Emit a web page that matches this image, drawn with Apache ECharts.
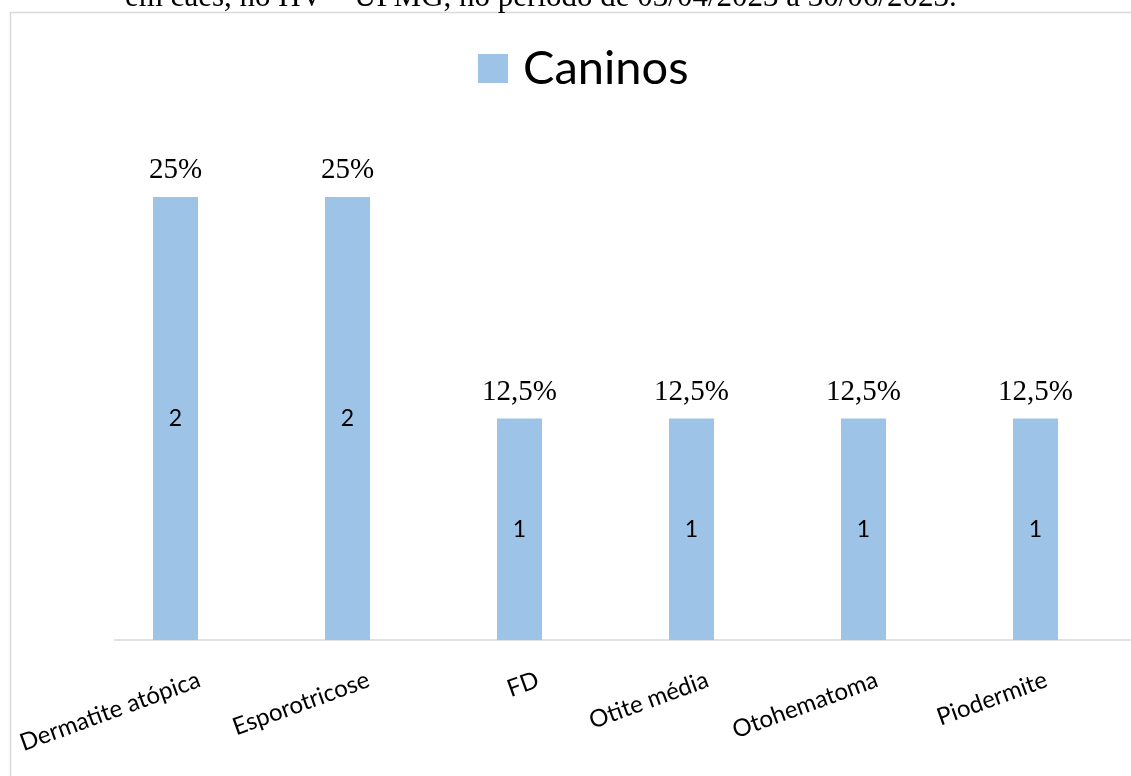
<!DOCTYPE html>
<html>
<head>
<meta charset="utf-8">
<script src="https://cdn.jsdelivr.net/npm/echarts@6/dist/echarts.min.js"></script>
<style>
html,body{margin:0;padding:0;background:#fff;}
#chart{width:1131px;height:776px;}
</style>
</head>
<body>
<div id="chart"></div>
<script>
// ---- data ----
var categories = ['Dermatite atópica', 'Esporotricose', 'FD', 'Otite média', 'Otohematoma', 'Piodermite'];
var counts = [2, 2, 1, 1, 1, 1];
var percentLabels = ['25%', '25%', '12,5%', '12,5%', '12,5%', '12,5%'];
var seriesName = 'Caninos';
var captionText = 'em cães, no HV – UFMG, no período de 03/04/2023 a 30/06/2023.';

var chart = echarts.init(document.getElementById('chart'));
var labelShift = 25;
var option = {
  animation: false,
  backgroundColor: '#ffffff',
  graphic: [
    {type: 'rect', shape: {x: 10.5, y: 12.5, width: 1140, height: 780},
     style: {fill: 'none', stroke: '#d9d9d9', lineWidth: 1.5}, silent: true},
    {type: 'text', left: 125, top: -18, z: 10,
     style: {text: captionText, font: '31px "Liberation Serif"', fill: '#000'}}
  ],
  legend: {
    data: [seriesName],
    left: 478, top: 45, padding: 0,
    itemWidth: 30, itemHeight: 29, icon: 'rect',
    textStyle: {fontFamily: 'Lato', fontSize: 47, color: '#000', padding: [0, 0, 0, 10]}
  },
  grid: [
    {left: 89.5, width: 1032, top: 86.25, bottom: 136, containLabel: false},
    {left: 89.5 + labelShift, width: 1032, top: 86.25, bottom: 136, containLabel: false}
  ],
  xAxis: [
    {type: 'category', data: categories, gridIndex: 0,
     axisLine: {show: false},
     axisTick: {show: false}, axisLabel: {show: false}},
    {type: 'category', data: categories, gridIndex: 1,
     axisLine: {show: true, lineStyle: {color: '#d9d9d9', width: 1.5}}, axisTick: {show: false},
     axisLabel: {rotate: 20, margin: 39, fontFamily: 'Lato', fontSize: 24, color: '#000', interval: 0}}
  ],
  yAxis: [
    {type: 'value', min: 0, max: 2.5, show: false, gridIndex: 0},
    {type: 'value', min: 0, max: 2.5, show: false, gridIndex: 1}
  ],
  series: [
    {name: seriesName, type: 'bar', data: counts, barWidth: 45, barGap: '-100%',
     xAxisIndex: 0, yAxisIndex: 0,
     itemStyle: {color: '#9DC3E6'},
     label: {show: true, position: 'inside', fontFamily: 'Lato', fontSize: 23, color: '#000'}},
    {name: 'pct', type: 'bar', data: counts, barWidth: 45, barGap: '-100%',
     xAxisIndex: 0, yAxisIndex: 0,
     itemStyle: {color: 'rgba(0,0,0,0)'}, silent: true,
     label: {show: true, position: 'top', distance: 12, fontFamily: '"Liberation Serif"', fontSize: 29, color: '#000',
       formatter: function (p) { return percentLabels[p.dataIndex]; }}}
  ]
};
chart.setOption(option);
</script>
</body>
</html>
